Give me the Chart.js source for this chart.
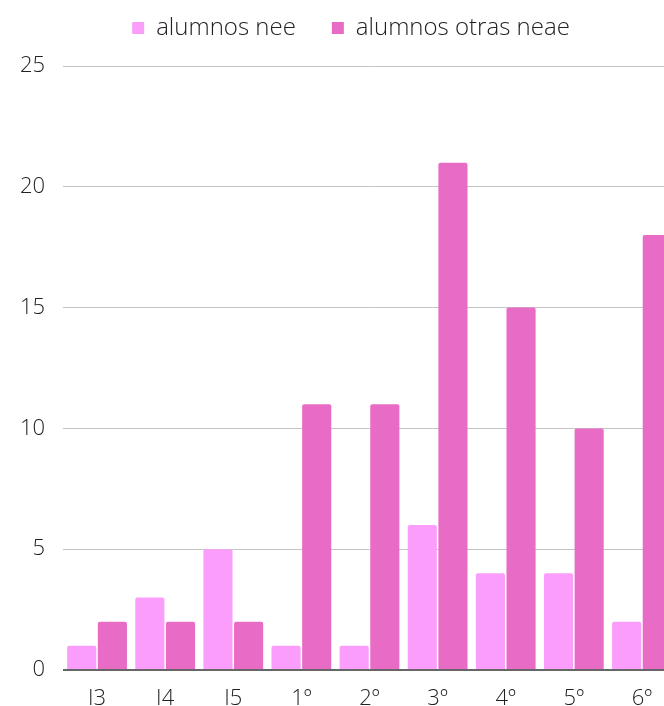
<!DOCTYPE html>
<html>
<head>
<meta charset="utf-8">
<script src="https://cdn.jsdelivr.net/npm/chart.js@4/dist/chart.umd.min.js"></script>
<style>
  html, body { margin: 0; padding: 0; background: #fff; overflow: hidden; }
  #wrap { width: 676px; height: 706px; }
</style>
</head>
<body>
<div id="wrap"><canvas id="bar-chart"></canvas></div>
<script>
var cursos = ['I3', 'I4', 'I5', '1º', '2º', '3º', '4º', '5º', '6º'];
var alumnosNee = [1, 3, 5, 1, 1, 6, 4, 4, 2];
var alumnosOtrasNeae = [2, 2, 2, 11, 11, 21, 15, 10, 18];
var ticksY = [0, 5, 10, 15, 20, 25];

Chart.defaults.font.family = '"Open Sans", sans-serif';
Chart.defaults.font.weight = 300;
Chart.defaults.font.size = 22;
Chart.defaults.color = '#222';

// legend: keep the wide gap between items but fix the box height and position
var posLeyenda = {
    id: 'posLeyenda',
    afterInit: function (chart) {
        var fit = chart.legend.fit;
        chart.legend.fit = function () {
            fit.call(this);
            this.height = 86;
        };
    },
    afterLayout: function (chart) {
        chart.legend.left = 26;
    }
};

var ctx = document.getElementById('bar-chart');
var chart = new Chart(ctx, {
    type: 'bar',
    data: {
        labels: cursos,
        datasets: [{
            label: 'alumnos nee',
            backgroundColor: '#fb9dfb',
            data: alumnosNee
        }, {
            label: 'alumnos otras neae',
            backgroundColor: '#e86cc6',
            data: alumnosOtrasNeae
        }]
    },
    options: {
        responsive: true,
        maintainAspectRatio: false,
        animation: false,
        layout: { padding: { top: -20, left: 0, right: 0, bottom: 0 } },
        datasets: {
            bar: {
                categoryPercentage: 0.9,
                barPercentage: 0.95,
                borderRadius: { topLeft: 2, topRight: 2 }
            }
        },
        plugins: {
            legend: {
                position: 'top',
                labels: {
                    boxWidth: 12,
                    boxHeight: 12,
                    padding: 36,
                    color: '#222',
                    font: { size: 24 }
                }
            },
            tooltip: { enabled: false }
        },
        scales: {
            x: {
                grid: { display: false },
                border: { display: false },
                ticks: { padding: 8, maxRotation: 0 },
                afterFit: function (scale) { scale.height = 36; }
            },
            y: {
                min: 0,
                max: 25,
                afterBuildTicks: function (scale) {
                    scale.ticks = ticksY.map(function (v) { return { value: v }; });
                },
                border: { display: false },
                grid: {
                    drawTicks: false,
                    color: function (c) { return c.tick && c.tick.value === 0 ? '#666' : '#c4c4c4'; },
                    lineWidth: function (c) { return c.tick && c.tick.value === 0 ? 2 : 1; }
                },
                ticks: { padding: 18 },
                afterFit: function (scale) { scale.width = 63; }
            }
        }
    },
    plugins: [posLeyenda]
});
</script>
</body>
</html>
